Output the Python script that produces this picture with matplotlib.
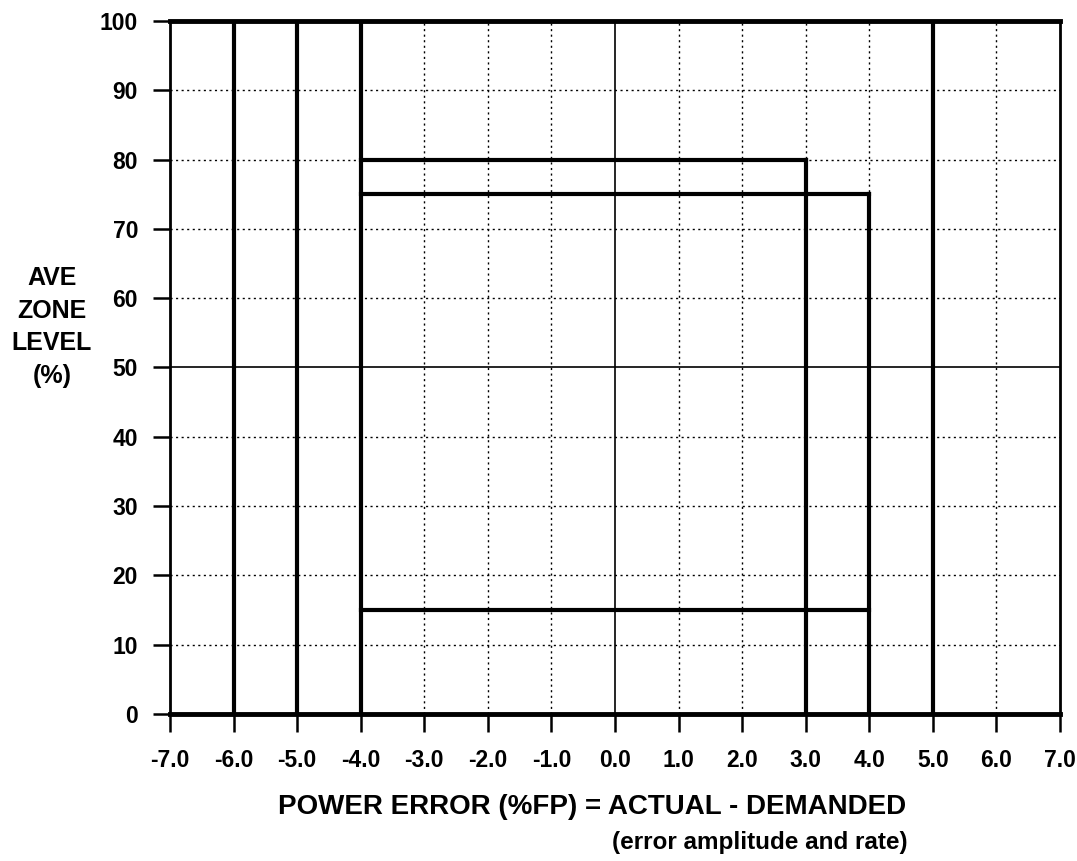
import matplotlib.pyplot as plt

plt.rcParams['font.family'] = ['Liberation Sans Narrow', 'Liberation Sans', 'DejaVu Sans']
plt.rcParams['font.weight'] = 'bold'

# axis ranges / ticks
x_ticks = [-7, -6, -5, -4, -3, -2, -1, 0, 1, 2, 3, 4, 5, 6, 7]
y_ticks = [0, 10, 20, 30, 40, 50, 60, 70, 80, 90, 100]

# full-height limit lines (x position)
limit_x = [-6, -5, -4, 5]

# inner box edges: vertical (x, ymin, ymax), horizontal (y, xmin, xmax)
box_vert = [(3, 0, 80), (4, 0, 75)]
box_horiz = [(80, -4, 3), (75, -4, 4), (15, -4, 4)]

fig = plt.figure(figsize=(10.77, 8.61), dpi=100)
ax = fig.add_axes([170/1077, 1 - 714/861, 890/1077, 693/861])
ax.set_xlim(-7, 7)
ax.set_ylim(0, 100)

# dotted grid, solid centre lines
for x in x_ticks[1:-1]:
    if x == 0:
        ax.axvline(x, color='black', lw=1.2, zorder=1)
    else:
        ax.axvline(x, color='black', lw=1, ls=(0, (1.5, 2.5)), zorder=1)
for y in y_ticks[1:-1]:
    if y == 50:
        ax.axhline(y, color='black', lw=1.2, zorder=1)
    else:
        ax.axhline(y, color='black', lw=1, ls=(0, (1.5, 2.5)), zorder=1)

for x in limit_x:
    ax.axvline(x, color='black', lw=3, zorder=3)
for x, y0, y1 in box_vert:
    ax.plot([x, x], [y0, y1], color='black', lw=3, zorder=3)
for y, x0, x1 in box_horiz:
    ax.plot([x0, x1], [y, y], color='black', lw=3, zorder=3)

ax.axhline(100, color='black', lw=3.5, zorder=4, clip_on=False)
ax.axhline(0, color='black', lw=3.5, zorder=4, clip_on=False)

for side in ['left', 'right']:
    ax.spines[side].set_linewidth(2)
for side in ['top', 'bottom']:
    ax.spines[side].set_visible(False)

ax.set_xticks(x_ticks)
ax.set_xticklabels(['%.1f' % v for v in x_ticks])
ax.set_yticks(y_ticks)
ax.tick_params(axis='x', direction='out', length=13, width=1.8, pad=12, labelsize=16.5)
ax.tick_params(axis='y', direction='out', length=12, width=1.8, pad=11, labelsize=16.5)
for lab in ax.get_xticklabels() + ax.get_yticklabels():
    lab.set_fontweight('bold')

fig.text(52/1077, 1 - 327/861, 'AVE\nZONE\nLEVEL\n(%)', ha='center', va='center',
         fontsize=18, fontweight='bold', linespacing=1.45)
fig.text(592/1077, 1 - 807/861, 'POWER ERROR (%FP) = ACTUAL - DEMANDED',
         ha='center', va='center', fontsize=20, fontweight='bold')
fig.text(760/1077, 1 - 842/861, '(error amplitude and rate)',
         ha='center', va='center', fontsize=17.5, fontweight='bold')

fig.savefig('out.png', dpi=100)
